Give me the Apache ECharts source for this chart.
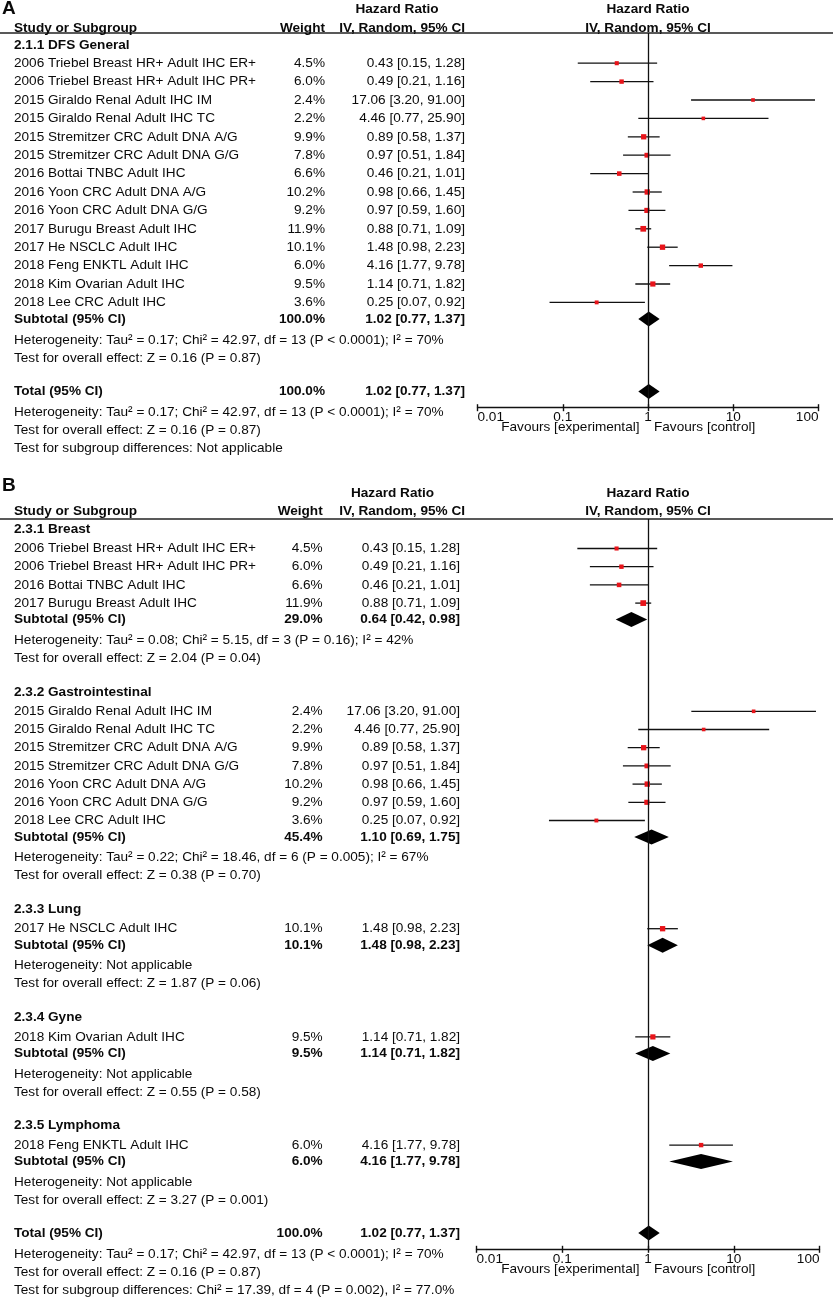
<!DOCTYPE html>
<html><head><meta charset="utf-8">
<script src="https://cdn.jsdelivr.net/npm/echarts@6/dist/echarts.min.js"></script>
<style>html,body{margin:0;padding:0;background:#fff}#c{width:833px;height:1299px}</style>
</head><body><div id="c"></div>
<script>
// ---------------- DATA ----------------
const studyNames = [
  "2006 Triebel Breast HR+ Adult IHC ER+",
  "2006 Triebel Breast HR+ Adult IHC PR+",
  "2015 Giraldo Renal Adult IHC IM",
  "2015 Giraldo Renal Adult IHC TC",
  "2015 Stremitzer CRC Adult DNA A/G",
  "2015 Stremitzer CRC Adult DNA G/G",
  "2016 Bottai TNBC Adult IHC",
  "2016 Yoon CRC Adult DNA A/G",
  "2016 Yoon CRC Adult DNA G/G",
  "2017 Burugu Breast Adult IHC",
  "2017 He NSCLC Adult IHC",
  "2018 Feng ENKTL Adult IHC",
  "2018 Kim Ovarian Adult IHC",
  "2018 Lee CRC Adult IHC"
];
const studyWeights = [4.5, 6.0, 2.4, 2.2, 9.9, 7.8, 6.6, 10.2, 9.2, 11.9, 10.1, 6.0, 9.5, 3.6];
const studyHR = [0.43, 0.49, 17.06, 4.46, 0.89, 0.97, 0.46, 0.98, 0.97, 0.88, 1.48, 4.16, 1.14, 0.25];
const studyLo = [0.15, 0.21, 3.20, 0.77, 0.58, 0.51, 0.21, 0.66, 0.59, 0.71, 0.98, 1.77, 0.71, 0.07];
const studyHi = [1.28, 1.16, 91.00, 25.90, 1.37, 1.84, 1.01, 1.45, 1.60, 1.09, 2.23, 9.78, 1.82, 0.92];

const panelAHeading = "2.1.1 DFS General";

const subgroupNames = ["2.3.1 Breast", "2.3.2 Gastrointestinal", "2.3.3 Lung", "2.3.4 Gyne", "2.3.5 Lymphoma"];
const subgroupMembers = [[0, 1, 6, 9], [2, 3, 4, 5, 7, 8, 13], [10], [12], [11]];
const subgroupWeight = [29.0, 45.4, 10.1, 9.5, 6.0];
const subgroupHR = [0.64, 1.10, 1.48, 1.14, 4.16];
const subgroupLo = [0.42, 0.69, 0.98, 0.71, 1.77];
const subgroupHi = [0.98, 1.75, 2.23, 1.82, 9.78];
const subgroupHet = [
  "Heterogeneity: Tau\u00b2 = 0.08; Chi\u00b2 = 5.15, df = 3 (P = 0.16); I\u00b2 = 42%",
  "Heterogeneity: Tau\u00b2 = 0.22; Chi\u00b2 = 18.46, df = 6 (P = 0.005); I\u00b2 = 67%",
  "Heterogeneity: Not applicable",
  "Heterogeneity: Not applicable",
  "Heterogeneity: Not applicable"
];
const subgroupTest = [
  "Test for overall effect: Z = 2.04 (P = 0.04)",
  "Test for overall effect: Z = 0.38 (P = 0.70)",
  "Test for overall effect: Z = 1.87 (P = 0.06)",
  "Test for overall effect: Z = 0.55 (P = 0.58)",
  "Test for overall effect: Z = 3.27 (P = 0.001)"
];

const overallWeight = 100.0;
const overallHR = 1.02, overallLo = 0.77, overallHi = 1.37;
const overallHet = "Heterogeneity: Tau\u00b2 = 0.17; Chi\u00b2 = 42.97, df = 13 (P < 0.0001); I\u00b2 = 70%";
const overallTest = "Test for overall effect: Z = 0.16 (P = 0.87)";
const subgroupDiffA = "Test for subgroup differences: Not applicable";
const subgroupDiffB = "Test for subgroup differences: Chi\u00b2 = 17.39, df = 4 (P = 0.002), I\u00b2 = 77.0%";

const tickLabels = ["0.01", "0.1", "1", "10", "100"];
const favoursLeft = "Favours [experimental]";
const favoursRight = "Favours [control]";

// ---------------- LAYOUT / STYLE ----------------
const FONT = '"Liberation Sans", Arial, Helvetica, sans-serif';
const FS = 13.6;
const TXT = '#0a0a0a';
function font(bold, size) { return (bold ? 'bold ' : '') + (size || FS) + 'px ' + FONT; }

const panels = [
  { letter: 'A', letterY: 8.5, hdr1Y: 9.3, hdr2Y: 28.3, lineY: 33, firstY: 45, axisY: 407.7,
    gridLeft: 477.5, gridWidth: 341, nameX: 14, weightX: 325, ciX: 465, ciHdrX: 465, hrHdrX: 397,
    steps: { 'heading>study': 18.2, 'study>study': 18.4, 'study>subtotal': 16.5, 'subtotal>note': 21,
             'note>note': 18, 'note>total': 33.5, 'total>note': 21, 'note>heading': 34 } },
  { letter: 'B', letterY: 486, hdr1Y: 493, hdr2Y: 511, lineY: 519, firstY: 529, axisY: 1249.3,
    gridLeft: 476.5, gridWidth: 343, nameX: 14, weightX: 322.7, ciX: 460, ciHdrX: 465, hrHdrX: 392.5,
    steps: { 'heading>study': 19.5, 'study>study': 18.2, 'study>subtotal': 16.5, 'subtotal>note': 20.5,
             'note>note': 17.9, 'note>total': 33, 'total>note': 21.5, 'note>heading': 33.8 } }
];

function ci(hr, lo, hi) { return hr.toFixed(2) + ' [' + lo.toFixed(2) + ', ' + hi.toFixed(2) + ']'; }
function studyRow(i) { return { type: 'study', name: studyNames[i], w: studyWeights[i], hr: studyHR[i], lo: studyLo[i], hi: studyHi[i] }; }

// panel A rows
const rowsA = [{ type: 'heading', name: panelAHeading }];
studyNames.forEach((_, i) => rowsA.push(studyRow(i)));
rowsA.push({ type: 'subtotal', name: 'Subtotal (95% CI)', w: overallWeight, hr: overallHR, lo: overallLo, hi: overallHi });
rowsA.push({ type: 'note', name: overallHet }, { type: 'note', name: overallTest });
rowsA.push({ type: 'total', name: 'Total (95% CI)', w: overallWeight, hr: overallHR, lo: overallLo, hi: overallHi });
rowsA.push({ type: 'note', name: overallHet }, { type: 'note', name: overallTest }, { type: 'note', name: subgroupDiffA });

// panel B rows
const rowsB = [];
subgroupNames.forEach((g, k) => {
  rowsB.push({ type: 'heading', name: g });
  subgroupMembers[k].forEach(i => rowsB.push(studyRow(i)));
  rowsB.push({ type: 'subtotal', name: 'Subtotal (95% CI)', w: subgroupWeight[k], hr: subgroupHR[k], lo: subgroupLo[k], hi: subgroupHi[k] });
  rowsB.push({ type: 'note', name: subgroupHet[k] }, { type: 'note', name: subgroupTest[k] });
});
rowsB.push({ type: 'total', name: 'Total (95% CI)', w: overallWeight, hr: overallHR, lo: overallLo, hi: overallHi });
rowsB.push({ type: 'note', name: overallHet }, { type: 'note', name: overallTest }, { type: 'note', name: subgroupDiffB });

const panelRows = [rowsA, rowsB];
panelRows.forEach((rows, p) => {
  let y = panels[p].firstY;
  rows.forEach((r, i) => {
    if (i > 0) y += panels[p].steps[rows[i - 1].type + '>' + r.type];
    r.y = y;
  });
});

function textEl(x, y, text, bold, align, size) {
  return { type: 'text', x: x, y: y, silent: true,
    style: { text: text, fill: TXT, font: font(bold, size), align: align || 'left', verticalAlign: 'middle',
             textAlign: align || 'left', textVerticalAlign: 'middle' } };
}

const grids = [], xAxes = [], yAxes = [], series = [], graphics = [];
panels.forEach((P, p) => {
  const rows = panelRows[p];
  grids.push({ left: P.gridLeft, width: P.gridWidth, top: P.lineY, height: P.axisY - P.lineY });
  const axisFont = { color: TXT, fontSize: FS, fontFamily: FONT };
  xAxes.push({ type: 'log', logBase: 10, gridIndex: p, min: 0.01, max: 100, position: 'bottom',
    axisLine: { show: true, lineStyle: { color: '#111', width: 1.4 } },
    axisTick: { show: true, length: 3.5, lineStyle: { color: '#111', width: 1.4 } },
    axisLabel: Object.assign({ margin: 3, alignMinLabel: 'left', alignMaxLabel: 'right',
      formatter: v => tickLabels[Math.round(Math.log10(v)) + 2] }, axisFont),
    splitLine: { show: false }, minorTick: { show: false } });
  xAxes.push({ type: 'log', logBase: 10, gridIndex: p, min: 0.01, max: 100, position: 'bottom',
    axisLine: { show: false }, axisLabel: { show: false }, splitLine: { show: false },
    axisTick: { show: true, inside: true, length: 3.5, lineStyle: { color: '#111', width: 1.4 } } });
  yAxes.push({ type: 'value', gridIndex: p, min: P.lineY, max: P.axisY, inverse: true, show: false });

  // forest marks
  const forestData = rows.filter(r => r.hr !== undefined)
    .map(r => [r.hr, r.lo, r.hi, r.y, r.w, r.type === 'study' ? 0 : 1]);
  series.push({
    type: 'custom', xAxisIndex: 2 * p, yAxisIndex: p, clip: false,
    dimensions: ['hr', 'lo', 'hi', 'y', 'w', 'kind'],
    encode: { x: [0, 1, 2], y: 3 },
    data: forestData, z: 3,
    renderItem: function (params, api) {
      const y = api.value(3);
      const pc = api.coord([api.value(0), y]), pl = api.coord([api.value(1), y]), ph = api.coord([api.value(2), y]);
      if (api.value(5) === 1) {
        const h = 7.5;
        return { type: 'polygon', shape: { points: [[pl[0], pc[1]], [pc[0], pc[1] - h], [ph[0], pc[1]], [pc[0], pc[1] + h]] },
          style: { fill: '#000' } };
      }
      const s = 3.1 + 0.22 * api.value(4);
      return { type: 'group', children: [
        { type: 'line', shape: { x1: pl[0], y1: pl[1], x2: ph[0], y2: ph[1] }, style: { stroke: '#111', lineWidth: 1.3 } },
        { type: 'rect', shape: { x: pc[0] - s / 2, y: pc[1] - s / 2, width: s, height: s }, style: { fill: '#e8141a' } }
      ] };
    },
    markLine: { silent: true, symbol: 'none', label: { show: false }, animation: false,
      lineStyle: { color: '#111', width: 1.3, type: 'solid' }, data: [{ xAxis: 1 }] }
  });

  // table text
  series.push({
    type: 'custom', xAxisIndex: 2 * p, yAxisIndex: p, clip: false,
    dimensions: ['x', 'y'], encode: { x: 0, y: 1 },
    data: rows.map(r => [1, r.y]), z: 4,
    renderItem: function (params, api) {
      const r = rows[params.dataIndex];
      const y = api.coord([1, r.y])[1];
      const bold = r.type === 'heading' || r.type === 'subtotal' || r.type === 'total';
      const children = [textEl(P.nameX, y, r.name, bold, 'left')];
      if (r.hr !== undefined) {
        children.push(textEl(P.weightX, y, r.w.toFixed(1) + '%', bold, 'right'));
        children.push(textEl(P.ciX, y, ci(r.hr, r.lo, r.hi), bold, 'right'));
      }
      return { type: 'group', children: children };
    }
  });

  // headers, rule, letters, favours labels
  const plotCenter = P.gridLeft + P.gridWidth / 2;
  graphics.push(
    { type: 'line', shape: { x1: 0, y1: P.lineY, x2: 833, y2: P.lineY }, style: { stroke: '#222', lineWidth: 1.6 }, silent: true },
    textEl(2, P.letterY, P.letter, true, 'left', 19),
    textEl(P.hrHdrX, P.hdr1Y, 'Hazard Ratio', true, 'center'),
    textEl(plotCenter, P.hdr1Y, 'Hazard Ratio', true, 'center'),
    textEl(P.nameX, P.hdr2Y, 'Study or Subgroup', true, 'left'),
    textEl(P.weightX, P.hdr2Y, 'Weight', true, 'right'),
    textEl(P.ciHdrX, P.hdr2Y, 'IV, Random, 95% CI', true, 'right'),
    textEl(plotCenter, P.hdr2Y, 'IV, Random, 95% CI', true, 'center'),
    textEl(plotCenter - 8.5, P.axisY + 19.5, favoursLeft, false, 'right'),
    textEl(plotCenter + 6, P.axisY + 19.5, favoursRight, false, 'left')
  );
});

const chart = echarts.init(document.getElementById('c'), null, { renderer: 'canvas' });
chart.setOption({
  animation: false,
  backgroundColor: '#fff',
  grid: grids, xAxis: xAxes, yAxis: yAxes, series: series,
  graphic: { elements: graphics }
});
</script>
</body></html>
